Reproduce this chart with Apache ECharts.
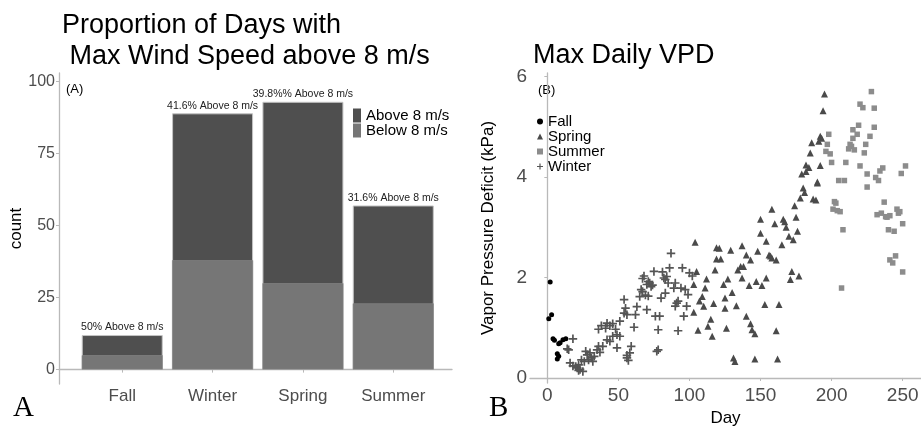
<!DOCTYPE html>
<html lang="en">
<head>
  <meta charset="UTF-8" />
  <title>Wind and VPD</title>
  <script src="https://cdn.jsdelivr.net/npm/echarts@6.0.0/dist/echarts.min.js"></script>
  <style>
    html, body { margin: 0; padding: 0; background: #fff; }
    #chart { width: 921px; height: 426px; }
  </style>
</head>
<body>
<div id="chart"></div>
<script>
// panel A: counts per season
var seasons = ['Fall', 'Winter', 'Spring', 'Summer'];
var belowCounts = [5, 38, 30, 23];
var aboveCounts = [7, 51, 63, 34];
var barLabels = ['50% Above 8 m/s', '41.6% Above 8 m/s', '39.8%% Above 8 m/s', '31.6% Above 8 m/s'];
var countTicks = [0, 25, 50, 75, 100];

// panel B: max daily VPD, [day, kPa]
var dayTicks = [0, 50, 100, 150, 200, 250];
var vpdTicks = [0, 2, 4, 6];
var fallPts = [[2,1.91],[3,1.26],[1,1.18],[4,0.78],[5,0.75],[9,0.70],[11,0.76],[13,0.78],[8,0.68],[7,0.48],[8,0.43],[7,0.38]];
var springPts = [[104,2.70],[119,2.59],[121,2.58],[119,2.37],[122,2.37],[129,2.54],[137,2.63],[140,2.45],[143,2.35],[148,2.52],
  [150,3.16],[158,3.36],[160,3.07],[150,2.88],[154,2.72],[156,2.45],[157,2.43],[158,2.39],[161,2.35],[105,2.12],
  [118,2.15],[112,1.97],[103,1.86],[111,1.79],[109,1.62],[107,1.53],[110,1.43],[124,1.86],[127,1.97],[134,2.15],
  [136,2.22],[138,2.22],[137,1.99],[130,1.70],[125,1.59],[125,1.39],[117,1.48],[103,1.31],[115,1.17],[113,1.03],
  [116,0.83],[106,0.95],[126,0.99],[133,1.44],[142,1.84],[147,1.92],[151,1.84],[154,1.99],[153,1.46],[163,1.46],
  [140,1.23],[143,1.08],[144,0.96],[146,0.88],[161,0.94],[131,0.40],[132,0.33],[146,0.38],[162,0.38],
  [179,4.06],[182,4.11],[190,3.88],[180,3.78],[181,3.69],[178,3.58],[187,3.56],[189,3.54],[174,3.43],[175,3.20],
  [166,3.16],[167,3.11],[168,3.00],[176,2.92],[170,2.82],[173,2.75],[165,2.65],[172,2.12],[171,1.96],[177,2.03],
  [195,5.65],[194,5.32],[192,4.81],[193,4.77],[186,4.68],[191,4.71],[185,4.48],[182,4.24],[184,4.19],[192,4.23],[190,3.90]];
var summerPts = [[228,5.70],[220,5.45],[222,5.38],[230,5.37],[219,5.03],[230,4.99],[215,4.94],[218,4.85],[215,4.77],[227,4.81],
  [198,4.85],[197,4.65],[196,4.51],[199,4.46],[213,4.65],[214,4.61],[212,4.56],[216,4.54],[224,4.65],[223,4.48],
  [200,4.29],[210,4.29],[220,4.22],[225,4.06],[234,4.12],[236,4.18],[231,3.99],[233,3.93],[252,4.22],[249,4.07],
  [205,3.93],[209,3.93],[225,3.80],[202,3.51],[203,3.48],[201,3.36],[204,3.33],[206,3.31],[208,2.95],[237,3.50],
  [232,3.25],[235,3.28],[238,3.21],[239,3.20],[241,3.23],[246,3.36],[247,3.28],[248,3.31],[250,3.07],[240,2.95],
  [244,2.92],[245,2.43],[241,2.35],[243,2.29],[250,2.11],[207,1.79]];
var winterPts = [[18,0.78],[15,0.56],[16,0.30],[18,0.24],[21,0.20],[20,0.23],[22,0.26],[24,0.36],[27,0.53],[28,0.46],
  [29,0.36],[31,0.40],[30,0.50],[33,0.43],[35,0.56],[36,0.63],[37,0.51],[36,0.97],[38,1.04],[41,0.99],
  [42,1.09],[44,1.04],[46,1.08],[48,0.97],[46,0.83],[49,0.86],[51,1.13],[51,0.83],[42,0.76],[39,0.63],
  [44,0.73],[49,0.60],[54,1.56],[55,1.39],[54,1.29],[56,1.26],[61,1.01],[59,0.63],[58,0.50],[56,0.40],
  [62,1.26],[63,1.42],[65,1.62],[66,1.76],[68,2.03],[70,1.86],[72,1.89],[73,1.82],[75,2.12],[81,2.11],
  [80,1.59],[82,1.99],[70,1.36],[76,1.23],[79,1.23],[78,0.96],[78,0.56],[69,1.65],[23,0.17],[25,0.13],
  [14,0.58],[22,0.15],[26,0.33],[32,0.33],[57,0.35],[56,0.45],[67,1.72],[71,1.92],[74,1.85],[87,2.48],
  [86,2.19],[95,2.19],[100,2.09],[102,2.03],[84,2.02],[85,1.89],[83,1.96],[89,1.79],[94,1.79],[97,1.76],
  [99,1.66],[90,1.89],[83,1.69],[91,1.49],[92,1.53],[90,1.43],[98,1.43],[96,1.23],[92,0.94],[77,0.53],
  [67,1.98],[71,1.63]];

var FONT = '"Liberation Sans", Arial, sans-serif';
var axisGrey = '#b9b9b9';
var plusPath = 'path://M4,0H6V4H10V6H6V10H4V6H0V4H4Z';

var totals = seasons.map(function (s, i) { return [i + 1, belowCounts[i] + aboveCounts[i]]; });
var belows = seasons.map(function (s, i) { return [i + 1, belowCounts[i]]; });

var chart = echarts.init(document.getElementById('chart'));

var option = {
  animation: false,
  backgroundColor: '#fff',
  textStyle: { fontFamily: FONT },
  title: [
    {
      text: 'Proportion of Days with\n Max Wind Speed above 8 m/s',
      left: 57, top: 5,
      textStyle: { fontFamily: FONT, fontSize: 27, fontWeight: 'normal', color: '#000', lineHeight: 31 }
    },
    {
      text: 'Max Daily VPD',
      left: 528, top: 37,
      textStyle: { fontFamily: FONT, fontSize: 27, fontWeight: 'normal', color: '#000' }
    }
  ],
  legend: [
    {
      data: ['Above 8 m/s', 'Below 8 m/s'],
      orient: 'vertical', left: 353, top: 108, padding: 0,
      icon: 'rect', itemWidth: 8, itemHeight: 14, itemGap: 0,
      itemStyle: { borderWidth: 0 },
      textStyle: { fontFamily: FONT, fontSize: 15, color: '#000', lineHeight: 14 }
    },
    {
      data: ['Fall', 'Spring', 'Summer', 'Winter'],
      orient: 'vertical', left: 537, top: 114, padding: 0,
      itemWidth: 6, itemHeight: 6, itemGap: 0,
      textStyle: { fontFamily: FONT, fontSize: 15, color: '#000', lineHeight: 14.5 }
    }
  ],
  grid: [
    { left: 59, top: 73, width: 393, height: 311, outerBoundsMode: 'none' },
    { left: 530, top: 73, right: 0, height: 310, outerBoundsMode: 'none' }
  ],
  xAxis: [
    {
      gridIndex: 0, type: 'value', min: 0.3, max: 4.65,
      splitLine: { show: false },
      axisLine: { show: true, lineStyle: { color: axisGrey, width: 1.3 } },
      axisTick: { show: true, length: 3, lineStyle: { color: axisGrey }, customValues: [1, 2, 3, 4] },
      axisLabel: {
        customValues: [1, 2, 3, 4], margin: 4,
        fontFamily: FONT, fontSize: 17, color: '#4d4d4d',
        formatter: function (v) { return seasons[Math.round(v) - 1]; }
      }
    },
    {
      gridIndex: 1, type: 'value', min: -12.2, max: 262.9,
      name: 'Day', nameLocation: 'middle', nameGap: 23,
      nameTextStyle: { fontFamily: FONT, fontSize: 17, color: '#000' },
      splitLine: { show: false },
      axisLine: { show: true, lineStyle: { color: axisGrey, width: 1.3 } },
      axisTick: { show: true, length: 3, lineStyle: { color: axisGrey }, customValues: dayTicks },
      axisLabel: { customValues: dayTicks, margin: 3, fontFamily: FONT, fontSize: 19, color: '#4d4d4d' }
    }
  ],
  yAxis: [
    {
      gridIndex: 0, type: 'value', min: -5, max: 103,
      name: 'count', nameLocation: 'middle', nameGap: 31,
      nameTextStyle: { fontFamily: FONT, fontSize: 17, color: '#000' },
      splitLine: { show: false },
      axisLine: { show: true, lineStyle: { color: axisGrey, width: 1.3 } },
      axisTick: { show: true, length: 3, lineStyle: { color: axisGrey }, customValues: countTicks },
      axisLabel: { customValues: countTicks, margin: 4, fontFamily: FONT, fontSize: 16, color: '#4d4d4d' }
    },
    {
      gridIndex: 1, type: 'value', min: -0.1, max: 6.07,
      name: 'Vapor Pressure Deficit (kPa)', nameLocation: 'middle', nameGap: 33,
      nameTextStyle: { fontFamily: FONT, fontSize: 17, color: '#000' },
      splitLine: { show: false },
      axisLine: { show: true, lineStyle: { color: axisGrey, width: 1.3 } },
      axisTick: { show: true, length: 3, lineStyle: { color: axisGrey }, customValues: vpdTicks },
      axisLabel: { customValues: vpdTicks, margin: 3, fontFamily: FONT, fontSize: 19, color: '#4d4d4d' }
    }
  ],
  series: [
    {
      name: 'Above 8 m/s', type: 'bar', xAxisIndex: 0, yAxisIndex: 0,
      data: totals, barWidth: 81, barGap: '-100%',
      itemStyle: { color: '#4f4f4f', borderColor: '#c4c4c4', borderWidth: 1 },
      label: {
        show: true, position: 'top', distance: 2,
        fontFamily: FONT, fontSize: 10.5, color: '#222',
        formatter: function (p) { return barLabels[p.dataIndex]; }
      }
    },
    {
      name: 'Below 8 m/s', type: 'bar', xAxisIndex: 0, yAxisIndex: 0,
      data: belows, barWidth: 81, barGap: '-100%',
      itemStyle: { color: '#767676', borderColor: '#8a8a8a', borderWidth: 0.6 }
    },
    {
      name: 'Fall', type: 'scatter', xAxisIndex: 1, yAxisIndex: 1,
      data: fallPts, symbol: 'circle', symbolSize: 5,
      itemStyle: { color: '#000', opacity: 1 }
    },
    {
      name: 'Spring', type: 'scatter', xAxisIndex: 1, yAxisIndex: 1,
      data: springPts, symbol: 'triangle', symbolSize: 7,
      itemStyle: { color: '#4a4a4a', opacity: 1 }
    },
    {
      name: 'Summer', type: 'scatter', xAxisIndex: 1, yAxisIndex: 1,
      data: summerPts, symbol: 'rect', symbolSize: 5.5,
      itemStyle: { color: '#8c8c8c', opacity: 1 }
    },
    {
      name: 'Winter', type: 'scatter', xAxisIndex: 1, yAxisIndex: 1,
      data: winterPts, symbol: plusPath, symbolSize: 8.5,
      itemStyle: { color: '#555', opacity: 1 }
    }
  ],
  graphic: [
    { type: 'text', left: 66, top: 83, style: { text: '(A)', font: '13px ' + FONT, fill: '#000' } },
    { type: 'text', left: 538, top: 84, style: { text: '(B)', font: '13px ' + FONT, fill: '#000' } },
    { type: 'text', left: 13, top: 394, style: { text: 'A', font: '29px "Liberation Serif", "Times New Roman", serif', fill: '#000' } },
    { type: 'text', left: 489, top: 394, style: { text: 'B', font: '29px "Liberation Serif", "Times New Roman", serif', fill: '#000' } }
  ]
};

chart.setOption(option);
</script>
</body>
</html>
